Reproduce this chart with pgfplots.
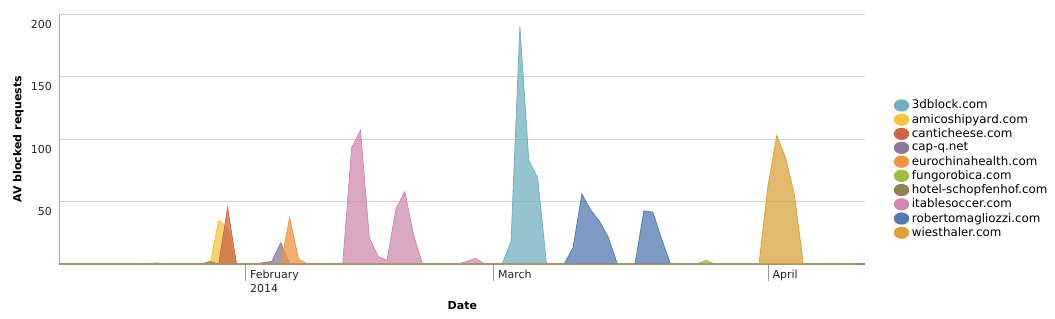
\documentclass[border=0pt]{standalone}
\usepackage{pgfplots}
\pgfplotsset{compat=1.18}
\usepackage{fontspec}
\setmainfont{DejaVu Sans}
\definecolor{c3d}{HTML}{73AFC0}
\definecolor{cam}{HTML}{F4C443}
\definecolor{cca}{HTML}{CC6647}
\definecolor{ccq}{HTML}{8C7799}
\definecolor{ceu}{HTML}{EE9443}
\definecolor{cfu}{HTML}{A2BB45}
\definecolor{cho}{HTML}{8F8356}
\definecolor{cit}{HTML}{CE8BAF}
\definecolor{cro}{HTML}{527AAF}
\definecolor{cwi}{HTML}{D8A33E}
\begin{document}
\begin{tikzpicture}
\path (-44.5pt,-40.5pt) rectangle (746.75pt,198pt);
\begin{axis}[
  at={(0,0)}, anchor=south west, scale only axis,
  width=604.5pt, height=187.3pt,
  xmin=-21, xmax=70, ymin=0, ymax=200,
  axis x line*=bottom, axis y line*=left,
  x axis line style={draw=black!45, line width=0.8pt},
  y axis line style={draw=black!35, line width=0.6pt},
  ytick={50,100,150,200},
  ymajorgrids, grid style={draw=black!18, line width=0.6pt},
  ytick style={draw=none},
  xtick={0,28,59},
  xticklabels={February\\2014, March, April},
  major tick length=13pt,
  xtick style={draw=black!40, line width=0.6pt, yshift=-13pt},
  tick align=inside,
  /pgf/number format/assume math mode=true,
  tick label style={font=\fontsize{8.25}{10.5}\selectfont, text=black!85},
  xticklabel style={anchor=north west, align=left, yshift=-1pt},
  yticklabel style={anchor=north east, xshift=-2pt, yshift=-1pt},
  xlabel={Date}, ylabel={AV blocked requests},
  label style={font=\fontsize{8.25}{10}\selectfont\bfseries},
  xlabel style={at={(axis description cs:0.5,-0.168)}, anchor=center},
  ylabel style={at={(axis description cs:-0.051,0.5)}, anchor=center},
  legend image code/.code={\fill[#1, draw=none, fill opacity=1] (0.1cm,0cm) ellipse (5.8pt and 4.6pt);},
  legend style={at={(1.03,0.38)}, anchor=west, draw=none, fill=none,
    font=\fontsize{8.9}{10}\selectfont, row sep=-1.6pt},
  legend cell align=left,
  every axis plot/.append style={line width=0.6pt, fill opacity=0.75},
]
\addplot[draw=c3d, fill=c3d] coordinates {(-21,0)(29,0)(30,18)(31,190)(32,83)(33,69)(34,0)(69,0)} \closedcycle;
\addlegendentry{3dblock.com}
\addplot[draw=cam, fill=cam] coordinates {(-21,0)(-4,0)(-3,35)(-2,29)(-1,0)(69,0)} \closedcycle;
\addlegendentry{amicoshipyard.com}
\addplot[draw=cca, fill=cca] coordinates {(-21,0)(-3,0)(-2,45)(-1,0)(69,0)} \closedcycle;
\addlegendentry{canticheese.com}
\addplot[draw=ccq, fill=ccq] coordinates {(-21,0)(1,0)(2,1)(3,2)(4,17)(5,0)(69,0)} \closedcycle;
\addlegendentry{cap-q.net}
\addplot[draw=ceu, fill=ceu] coordinates {(-21,0)(4,0)(5,37)(6,4)(7,0)(69,0)} \closedcycle;
\addlegendentry{eurochinahealth.com}
\addplot[draw=cfu, fill=cfu] coordinates {(-21,0)(-11,0)(-10,1)(-9,0)(51,0)(52,3)(53,0)(69,0)} \closedcycle;
\addlegendentry{fungorobica.com}
\addplot[draw=cho, fill=cho] coordinates {(-21,0)(-5,0)(-4,2)(-3,0)(69,0)} \closedcycle;
\addlegendentry{hotel-schopfenhof.com}
\addplot[draw=cit, fill=cit] coordinates {(-21,0)(11,0)(12,93)(13,107)(14,21)(15,6)(16,3)(17,44)(18,58)(19,23)(20,0)(24,0)(25,2)(26,4.5)(27,0)(69,0)} \closedcycle;
\addlegendentry{itablesoccer.com}
\addplot[draw=cro, fill=cro] coordinates {(-21,0)(36,0)(37,13)(38,56)(39,43)(40,34)(41,21)(42,0)(44,0)(45,42.5)(46,41.5)(47,20)(48,0)(69,0)} \closedcycle;
\addlegendentry{robertomagliozzi.com}
\addplot[draw=cwi, fill=cwi] coordinates {(-21,0)(58,0)(59,62)(60,103)(61,85)(62,55)(63,0)(69,0)} \closedcycle;
\addlegendentry{wiesthaler.com}
\end{axis}
\end{tikzpicture}
\end{document}
